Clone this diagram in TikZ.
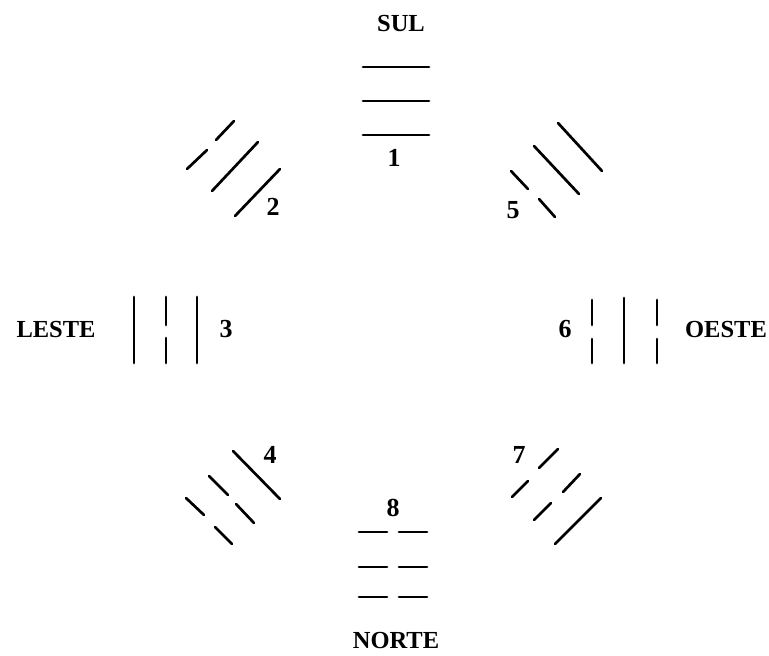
\documentclass[tikz,border=0pt]{standalone}
\usepackage{fontspec}
\setmainfont{Liberation Serif}
\begin{document}
\begin{tikzpicture}[x=1pt,y=-1pt,
  yao/.style={line width=2.7pt,line cap=round},
  lbl/.style={font=\fontsize{24.5}{30}\selectfont\bfseries,inner sep=0pt},
  num/.style={font=\fontsize{26}{30}\selectfont\bfseries,inner sep=0pt}]
\useasboundingbox[fill=white] (0,0) rectangle (769,656);
% labels
\node[lbl] (sul) at (401,24) {SUL};
\node[lbl] (norte) at (396,641) {NORTE};
\node[lbl] (leste) at (56,330) {LESTE};
\node[lbl] (oeste) at (726,330) {OESTE};
\node[num] (n1) at (394,158) {1};
\node[num] (n2) at (273,207) {2};
\node[num] (n3) at (226,329) {3};
\node[num] (n4) at (270,455) {4};
\node[num] (n5) at (513,210) {5};
\node[num] (n6) at (565,329) {6};
\node[num] (n7) at (519,455) {7};
\node[num] (n8) at (393,508) {8};
% 1 (top)
\draw[yao] (363,67) -- (429,67);
\draw[yao] (363,101) -- (429,101);
\draw[yao] (363,135) -- (429,135);
% 2 (upper left)
\draw[yao] (187,169) -- (207,150);
\draw[yao] (216,140) -- (234,121);
\draw[yao] (212,191) -- (258,142);
\draw[yao] (235,216) -- (280,169);
% 3 (left)
\draw[yao] (134,297) -- (134,363);
\draw[yao] (166,297) -- (166,325);
\draw[yao] (166,338) -- (166,363);
\draw[yao] (197,297) -- (197,363);
% 4 (lower left)
\draw[yao] (233,451) -- (280,499);
\draw[yao] (209,476) -- (228,495);
\draw[yao] (236,504) -- (254,523);
\draw[yao] (186,498) -- (204,515);
\draw[yao] (215,527) -- (232,544);
% 5 (upper right)
\draw[yao] (558,123) -- (602,171);
\draw[yao] (534,146) -- (579,194);
\draw[yao] (511,171) -- (528,189);
\draw[yao] (539,199) -- (555,217);
% 6 (right)
\draw[yao] (592,300) -- (592,325);
\draw[yao] (592,339) -- (592,363);
\draw[yao] (624,298) -- (624,363);
\draw[yao] (657,300) -- (657,325);
\draw[yao] (657,339) -- (657,363);
% 7 (lower right)
\draw[yao] (512,497) -- (528,481);
\draw[yao] (539,468) -- (558,449);
\draw[yao] (534,520) -- (551,503);
\draw[yao] (563,492) -- (580,474);
\draw[yao] (555,544) -- (601,498);
% 8 (bottom)
\draw[yao] (359,532) -- (387,532);
\draw[yao] (399,532) -- (427,532);
\draw[yao] (359,567) -- (387,567);
\draw[yao] (399,567) -- (427,567);
\draw[yao] (359,597) -- (387,597);
\draw[yao] (399,597) -- (427,597);
\end{tikzpicture}
\end{document}
